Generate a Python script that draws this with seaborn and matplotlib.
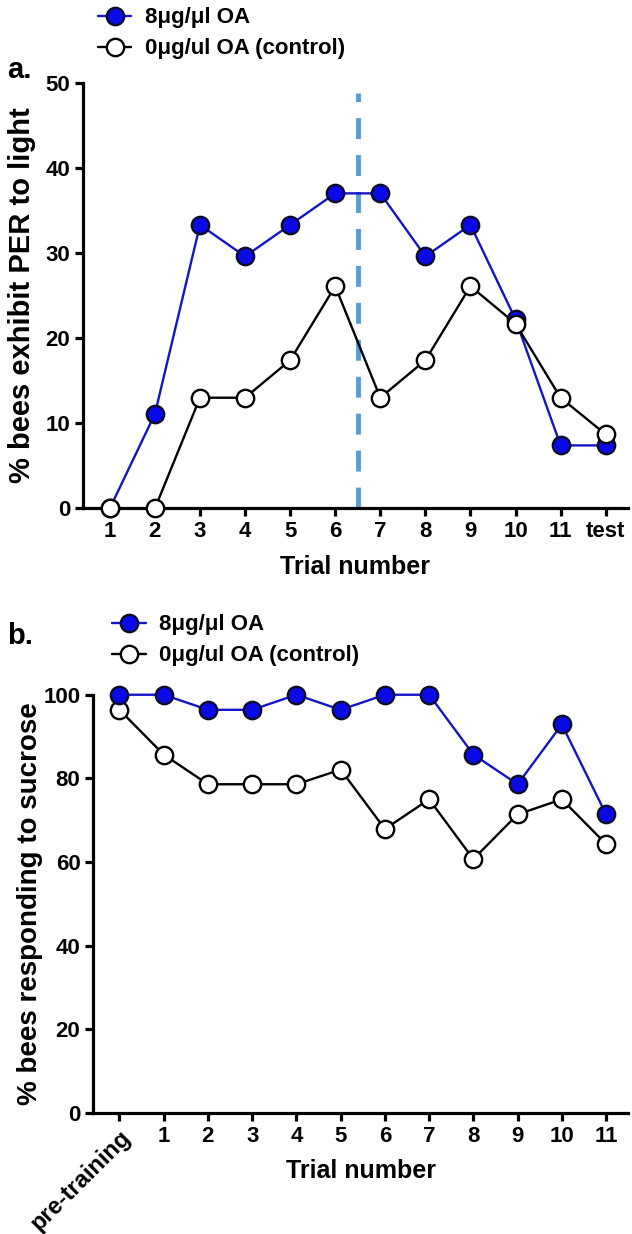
import matplotlib
matplotlib.use("Agg")
import matplotlib.pyplot as plt
import seaborn as sns

# panel a: PER to light
trials_a = list(range(1, 13))
labels_a = ["1", "2", "3", "4", "5", "6", "7", "8", "9", "10", "11", "test"]
oa_a = [0, 11.1, 33.3, 29.6, 33.3, 37.0, 37.0, 29.6, 33.3, 22.2, 7.4, 7.4]
ctrl_a = [0, 0, 13.0, 13.0, 17.4, 26.1, 13.0, 17.4, 26.1, 21.7, 13.0, 8.7]

# panel b: responding to sucrose
trials_b = list(range(0, 12))
labels_b = ["pre-training", "1", "2", "3", "4", "5", "6", "7", "8", "9", "10", "11"]
oa_b = [100, 100, 96.4, 96.4, 100, 96.4, 100, 100, 85.7, 78.6, 92.9, 71.4]
ctrl_b = [96.4, 85.7, 78.6, 78.6, 78.6, 82.1, 67.9, 75.0, 60.7, 71.4, 75.0, 64.3]

sns.set_style("ticks")
plt.rcParams['font.family'] = ['Liberation Sans', 'DejaVu Sans']
plt.rcParams['font.weight'] = 'bold'
for k in ('text.color', 'axes.labelcolor', 'xtick.color', 'ytick.color', 'axes.edgecolor'):
    plt.rcParams[k] = 'black'

blue = '#1414C8'
fig = plt.figure(figsize=(6.32, 12.34), dpi=100)

ax1 = fig.add_axes([0.131, 0.588, 0.863, 0.345])
ax2 = fig.add_axes([0.147, 0.098, 0.847, 0.339])

def style_series(ax, x, y_oa, y_ctrl, oa_top):
    sns.lineplot(x=x, y=y_oa, ax=ax, color=blue, lw=1.7, marker='o', markersize=12.5,
                 markerfacecolor='#0A0AE6', markeredgecolor='#0B0B2A', markeredgewidth=1.7,
                 label='8μg/μl OA', zorder=4 if oa_top else 3, clip_on=False)
    sns.lineplot(x=x, y=y_ctrl, ax=ax, color='black', lw=1.7, marker='o', markersize=12.5,
                 markerfacecolor='white', markeredgecolor='black', markeredgewidth=1.7,
                 label='0μg/ul OA (control)', zorder=3 if oa_top else 4, clip_on=False)

style_series(ax1, trials_a, oa_a, ctrl_a, oa_top=False)
ax1.axvline(6.5, ymin=0, ymax=0.975, color='#5A9BD5', lw=3.5, ls=(0, (4.3, 3.3)), zorder=2)
ax1.set_xlim(0.4, 12.5)
ax1.set_ylim(0, 50)
ax1.set_yticks([0, 10, 20, 30, 40, 50])
ax1.set_xticks(trials_a)
ax1.set_xticklabels(labels_a)
ax1.set_xlabel('Trial number', fontsize=18, fontweight='bold')
ax1.set_ylabel('% bees exhibit PER to light', fontsize=21, fontweight='bold')
ax1.xaxis.set_label_coords(0.5, -0.11)
ax1.yaxis.set_label_coords(-0.085, 0.5)

style_series(ax2, trials_b, oa_b, ctrl_b, oa_top=True)
ax2.set_xlim(-0.6, 11.5)
ax2.set_ylim(0, 100)
ax2.set_yticks([0, 20, 40, 60, 80, 100])
ax2.set_xticks(trials_b)
ax2.set_xticklabels(labels_b)
ax2.set_xlabel('Trial number', fontsize=18, fontweight='bold')
ax2.set_ylabel('% bees responding to sucrose', fontsize=20, fontweight='bold')
ax2.xaxis.set_label_coords(0.5, -0.11)
ax2.yaxis.set_label_coords(-0.094, 0.5)

for ax in (ax1, ax2):
    sns.despine(ax=ax)
    for s in ('left', 'bottom'):
        ax.spines[s].set_linewidth(2.3)
        ax.spines[s].set_color('black')
    ax.tick_params(width=2.3, length=6, labelsize=16, pad=3, colors='black')
    for t in ax.get_xticklabels() + ax.get_yticklabels():
        t.set_fontweight('bold')

lab0 = ax2.get_xticklabels()[0]
lab0.set_rotation(45)
lab0.set_ha('right')
lab0.set_va('top')
lab0.set_rotation_mode('anchor')
lab0.set_fontsize(17)

leg_kw = dict(loc='center left', bbox_transform=fig.transFigure, frameon=False, fontsize=16,
              handlelength=1.5, handletextpad=0.6, labelspacing=0.45, borderaxespad=0,
              borderpad=0)
ax1.legend(bbox_to_anchor=(0.155, 0.973), **leg_kw)
ax2.legend(bbox_to_anchor=(0.178, 0.481), **leg_kw)

fig.text(0.012, 0.937, 'a.', fontsize=21, fontweight='bold')
fig.text(0.012, 0.478, 'b.', fontsize=21, fontweight='bold')

fig.savefig('out.png', dpi=100)
